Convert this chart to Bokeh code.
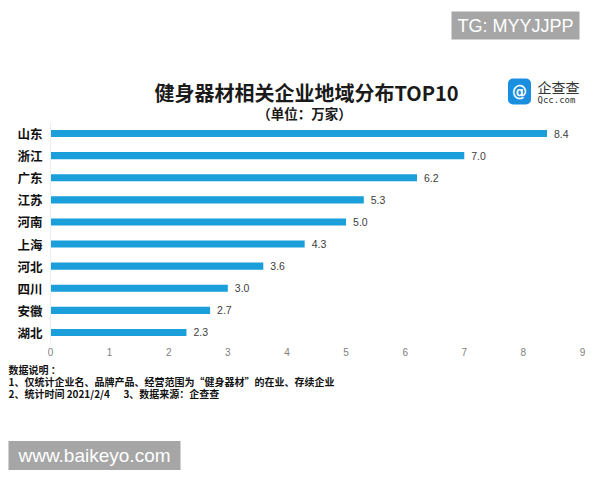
from bokeh.plotting import figure
from bokeh.models import ColumnDataSource, Label, Range1d, FixedTicker, LabelSet
from bokeh.core.properties import value
from bokeh.layouts import column
from bokeh.embed import file_html
from bokeh.resources import INLINE

provinces = ["山东", "浙江", "广东", "江苏", "河南", "上海", "河北", "四川", "安徽", "湖北"]
values = [8.4, 7.0, 6.2, 5.3, 5.0, 4.3, 3.6, 3.0, 2.7, 2.3]
value_text = ["8.4", "7.0", "6.2", "5.3", "5.0", "4.3", "3.6", "3.0", "2.7", "2.3"]
x_ticks = [0, 1, 2, 3, 4, 5, 6, 7, 8, 9]

NB = "\u00a0"
title_text = "健身器材相关企业地域分布TOP10"
subtitle_text = "（单位：万家）"
notes = ["数据说明" + NB + "：",
         "1、仅统计企业名、品牌产品、经营范围为“健身器材”的在业、存续企业",
         "2、统计时间" + NB + "2021/2/4" + NB * 6 + "3、数据来源：企查查"]
logo_name = "企查查"
logo_site = "Qcc.com"
watermark_top = "TG: MYYJJPP"
watermark_bottom = "www.baikeyo.com"

CJK = "Noto Sans CJK SC"
W = 600
TOP_H, MAIN_H = 122, 238
BOT_H = 480 - TOP_H - MAIN_H


def blank(height, y0, y1):
    f = figure(width=W, height=height, x_range=Range1d(0, W), y_range=Range1d(y1, y0),
               output_backend="svg", toolbar_location=None, x_axis_type=None,
               y_axis_type=None, min_border=0, frame_align=False)
    f.outline_line_color = None
    f.xgrid.grid_line_color = None
    f.ygrid.grid_line_color = None
    return f


def lab(f, cx, cy, text, **kw):
    f.add_layout(Label(x=cx, y=cy, text=text, **kw))


# ---------- header ----------
top = blank(TOP_H, 0, TOP_H)
lab(top, 306, 92, title_text, text_font=CJK, text_font_size="20px", text_font_style="bold",
    text_color="#1a1a1a", text_align="center", text_baseline="middle")
lab(top, 304, 112, subtitle_text, text_font=CJK, text_font_size="13.5px", text_font_style="bold",
    text_color="#1a1a1a", text_align="center", text_baseline="middle")
lab(top, 519, 91, "@", text_font="DejaVu Sans", text_font_size="15px", text_font_style="bold",
    text_color="white", text_align="center", text_baseline="middle",
    background_fill_color="#1a8fe0", padding=4, border_radius=5)
lab(top, 537, 86, logo_name, text_font=CJK, text_font_size="14px", text_color="#333333",
    text_align="left", text_baseline="middle")
lab(top, 537, 99, logo_site, text_font="DejaVu Sans Mono", text_font_size="9px",
    text_color="#333333", text_align="left", text_baseline="middle")
lab(top, 515, 25, watermark_top, text_font="Liberation Sans", text_font_size="18px",
    text_color="white", text_align="center", text_baseline="middle",
    background_fill_color="#a6a6a6",
    padding=dict(left=6, right=6, top=4, bottom=4))

# ---------- main chart ----------
src = ColumnDataSource(dict(prov=provinces, val=values, txt=value_text))

p = figure(width=W, height=MAIN_H, y_range=list(reversed(provinces)),
           x_range=Range1d(0, 9), output_backend="svg", toolbar_location=None,
           min_border_left=50, min_border_right=18, min_border_top=0,
           min_border_bottom=MAIN_H - 221, frame_align=False)
p.outline_line_color = None
p.xgrid.grid_line_color = None
p.ygrid.grid_line_color = None

p.hbar(y="prov", right="val", left=0, height=0.32, source=src,
       fill_color="#1a9fdb", line_color=None)

p.add_layout(LabelSet(x="val", y="prov", text="txt", source=src, x_offset=7,
                      text_font_size=value("10.5px"), text_color=value("#404040"),
                      text_baseline=value("middle"), text_font=value("Liberation Sans")))

p.xaxis.ticker = FixedTicker(ticks=x_ticks)
p.xaxis.axis_line_color = None
p.xaxis.major_tick_line_color = None
p.xaxis.major_tick_out = 0
p.xaxis.minor_tick_line_color = None
p.xaxis.major_label_text_color = "#808080"
p.xaxis.major_label_text_font_size = "10px"
p.xaxis.major_label_text_font = "Liberation Sans"
p.xaxis.major_label_standoff = 4

p.yaxis.axis_line_color = "#eeeeee"
p.yaxis.major_tick_line_color = None
p.yaxis.major_tick_out = 0
p.yaxis.minor_tick_line_color = None
p.yaxis.major_label_text_color = "#111111"
p.yaxis.major_label_text_font_size = "12.5px"
p.yaxis.major_label_text_font_style = "bold"
p.yaxis.major_label_text_font = CJK
p.yaxis.major_label_standoff = 8

# ---------- footer ----------
y0 = TOP_H + MAIN_H
bot = blank(BOT_H, y0, 480)
for i, t in enumerate(notes):
    lab(bot, 8, 369 + 12 * i, t, text_font=CJK, text_font_size="10px", text_font_style="bold",
        text_color="#111111", text_align="left", text_baseline="middle")
lab(bot, 94, 455, watermark_bottom, text_font="Liberation Sans", text_font_size="19px",
    text_color="white", text_align="center", text_baseline="middle",
    background_fill_color="#a6a6a6",
    padding=dict(left=10, right=10, top=4, bottom=4))

layout = column(top, p, bot, spacing=0)
open("out.html", "w").write(file_html(layout, INLINE))
